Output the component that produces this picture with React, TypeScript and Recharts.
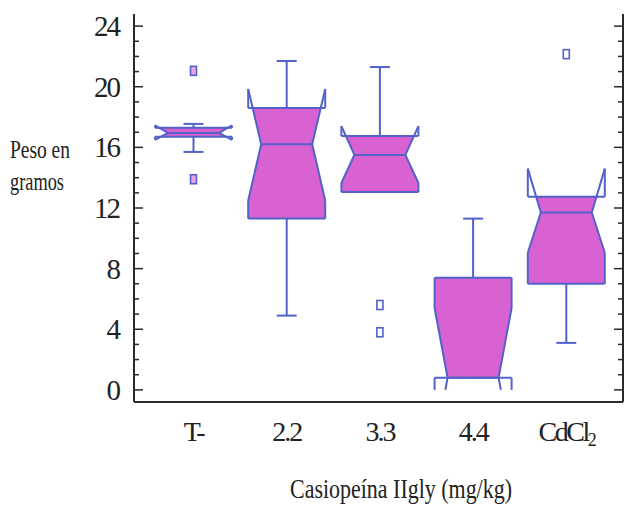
import React from 'react';
import { ComposedChart, Bar, XAxis, YAxis } from 'recharts';

// grupos de dosis
const categories = ['T-', '2.2', '3.3', '4.4', 'CdCl2'];

// estadisticos de cada caja (peso en gramos)
const whiskerLow = [15.7, 4.9, 13.05, 0.8, 3.1];
const q1 = [16.7, 11.3, 13.05, 0.8, 7.0];
const median = [16.95, 16.2, 15.5, 0.8, 11.7];
const q3 = [17.3, 18.6, 16.75, 7.4, 12.75];
const whiskerHigh = [17.55, 21.7, 21.3, 11.3, 12.75];
const notchLow = [16.5, 12.5, 13.65, -3.8, 9.05];
const notchHigh = [17.45, 19.85, 17.4, 5.4, 14.6];
const outliers = [[21.05, 13.9], [], [5.6, 3.8], [], [22.15]];

const yTicks = Array.from({ length: 25 }, (_, i) => i);

const FILL = '#D862D2';
const LINE = '#5262C8';
const FRAME = '#2a2a2a';
const FONT = '"Liberation Serif", "DejaVu Serif", serif';
const NOTCH = 13;
const FLOOR = 0;

const rows = categories.map((name, i) => ({ name, range: [whiskerLow[i], whiskerHigh[i]] }));

function BoxShape(props: any) {
  const { x, y, width, height, index } = props;
  const i = index;
  const lo = whiskerLow[i];
  const hi = whiskerHigh[i];
  const top = Math.min(y, y + height);
  const ppu = Math.abs(height) / (hi - lo);
  const py = (v: number) => top + (hi - v) * ppu;
  const L = x;
  const R = x + width;
  const cx = x + width / 2;
  const md = median[i];
  const nH = notchHigh[i];
  const nL = notchLow[i];
  const b1 = q1[i];
  const b3 = q3[i];
  const nLc = Math.max(nL, FLOOR);

  const ind = (v: number) => {
    if (v >= md) return v >= nH ? 0 : (NOTCH * (nH - v)) / (nH - md);
    return v <= nL ? 0 : (NOTCH * (v - nL)) / (md - nL);
  };

  // relleno: muesca recortada a la caja
  const vals = Array.from(new Set([b3, nH, md, nL, b1]))
    .filter((v) => v <= b3 && v >= b1)
    .sort((a, b) => b - a);
  const leftPts = vals.map((v) => `${L + ind(v)},${py(v)}`);
  const rightPts = [...vals].reverse().map((v) => `${R - ind(v)},${py(v)}`);
  const poly = [...leftPts, ...rightPts].join(' ');

  const sw = 2;
  return (
    <g>
      <polygon points={poly} fill={FILL} stroke="none" />
      {/* bigotes */}
      {hi > b3 && (
        <g stroke={LINE} strokeWidth={sw}>
          <line x1={cx} x2={cx} y1={py(b3)} y2={py(hi)} />
          <line x1={cx - 10} x2={cx + 10} y1={py(hi)} y2={py(hi)} />
        </g>
      )}
      {lo < b1 && (
        <g stroke={LINE} strokeWidth={sw}>
          <line x1={cx} x2={cx} y1={py(b1)} y2={py(lo)} />
          <line x1={cx - 10} x2={cx + 10} y1={py(lo)} y2={py(lo)} />
        </g>
      )}
      <g stroke={LINE} strokeWidth={sw} fill="none" strokeLinejoin="round">
        <line x1={L} x2={R} y1={py(b3)} y2={py(b3)} />
        <line x1={L} x2={R} y1={py(b1)} y2={py(b1)} />
        <line x1={L + ind(md)} x2={R - ind(md)} y1={py(md)} y2={py(md)} />
        <line x1={L} x2={L} y1={py(b3)} y2={py(nH)} />
        <line x1={R} x2={R} y1={py(b3)} y2={py(nH)} />
        <line x1={L} x2={L} y1={py(b1)} y2={py(nLc)} />
        <line x1={R} x2={R} y1={py(b1)} y2={py(nLc)} />
        <polyline points={`${L},${py(nH)} ${L + NOTCH},${py(md)} ${L + ind(nLc)},${py(nLc)}`} />
        <polyline points={`${R},${py(nH)} ${R - NOTCH},${py(md)} ${R - ind(nLc)},${py(nLc)}`} />
      </g>
      {outliers[i].map((v, k) => (
        <rect key={k} x={cx - 3} y={py(v) - 4.5} width={6} height={9} fill={i === 0 ? '#E8A4E4' : '#fff'} stroke={LINE} strokeWidth={1.6} />
      ))}
    </g>
  );
}

function LeftTick(props: any) {
  const { x, y, payload } = props;
  const v = payload.value;
  const major = v % 4 === 0;
  return (
    <g>
      <line x1={x} x2={x + (major ? 9 : 5)} y1={y} y2={y} stroke={FRAME} strokeWidth={1.5} />
      {major && (
        <text x={x - 15} y={y} dy={10} textAnchor="end" fontSize={29} fontFamily={FONT} fill="#222" letterSpacing={-2}>
          {v}
        </text>
      )}
    </g>
  );
}

function RightTick(props: any) {
  const { x, y, payload } = props;
  const major = payload.value % 4 === 0;
  return <line x1={x} x2={x - (major ? 9 : 5)} y1={y} y2={y} stroke={FRAME} strokeWidth={1.5} />;
}

function BottomTick(props: any) {
  const { x, y, payload } = props;
  const label = payload.value;
  if (label === 'CdCl2') {
    return (
      <text x={x} y={y + 39} textAnchor="middle" fontSize={28} fontFamily={FONT} fill="#222" letterSpacing={-2.5}>
        CdCl<tspan fontSize={18} dy={5}>2</tspan>
      </text>
    );
  }
  return (
    <text x={x} y={y + 39} textAnchor="middle" fontSize={28} fontFamily={FONT} fill="#222" letterSpacing={-2}>
      {label}
    </text>
  );
}

const yTitle = () => (
  <g fontFamily={FONT} fill="#222" fontSize={26}>
    <text x={10} y={158} textLength={60} lengthAdjust="spacingAndGlyphs">Peso en</text>
    <text x={10} y={190} textLength={54} lengthAdjust="spacingAndGlyphs">gramos</text>
  </g>
);

const xTitle = () => (
  <text x={290} y={498} fontFamily={FONT} fill="#222" fontSize={27} textLength={222} lengthAdjust="spacingAndGlyphs">
    Casiopeína IIgly (mg/kg)
  </text>
);

export default function App() {
  return (
    <div style={{ position: 'absolute', left: 0, top: 0, background: '#fff' }}>
      <ComposedChart
        width={625}
        height={508}
        data={rows}
        margin={{ top: 14, right: 1, bottom: 66, left: 0 }}
      >
        <XAxis
          dataKey="name"
          type="category"
          height={40}
          padding={{ left: 13, right: 10 }}
          axisLine={{ stroke: FRAME, strokeWidth: 2 }}
          tickLine={false}
          tickSize={0}
          tickMargin={0}
          tick={<BottomTick />}
          interval={0}
          label={{ content: xTitle }}
        />
        <XAxis
          xAxisId="top"
          dataKey="name"
          orientation="top"
          height={0}
          padding={{ left: 13, right: 10 }}
          axisLine={{ stroke: FRAME, strokeWidth: 2 }}
          tickLine={false}
          tick={false}
        />
        <YAxis
          type="number"
          domain={[-0.8, 24.8]}
          allowDataOverflow
          ticks={yTicks}
          interval={0}
          width={134}
          axisLine={{ stroke: FRAME, strokeWidth: 2 }}
          tickLine={false}
          tickSize={0}
          tickMargin={0}
          tick={<LeftTick />}
          label={{ content: yTitle }}
        />
        <YAxis
          yAxisId="r"
          orientation="right"
          type="number"
          domain={[-0.8, 24.8]}
          allowDataOverflow
          ticks={yTicks}
          interval={0}
          width={1}
          axisLine={{ stroke: FRAME, strokeWidth: 2 }}
          tickLine={false}
          tickSize={0}
          tickMargin={0}
          tick={<RightTick />}
        />
        <Bar dataKey="range" barSize={77} shape={<BoxShape />} isAnimationActive={false} />
      </ComposedChart>
    </div>
  );
}
